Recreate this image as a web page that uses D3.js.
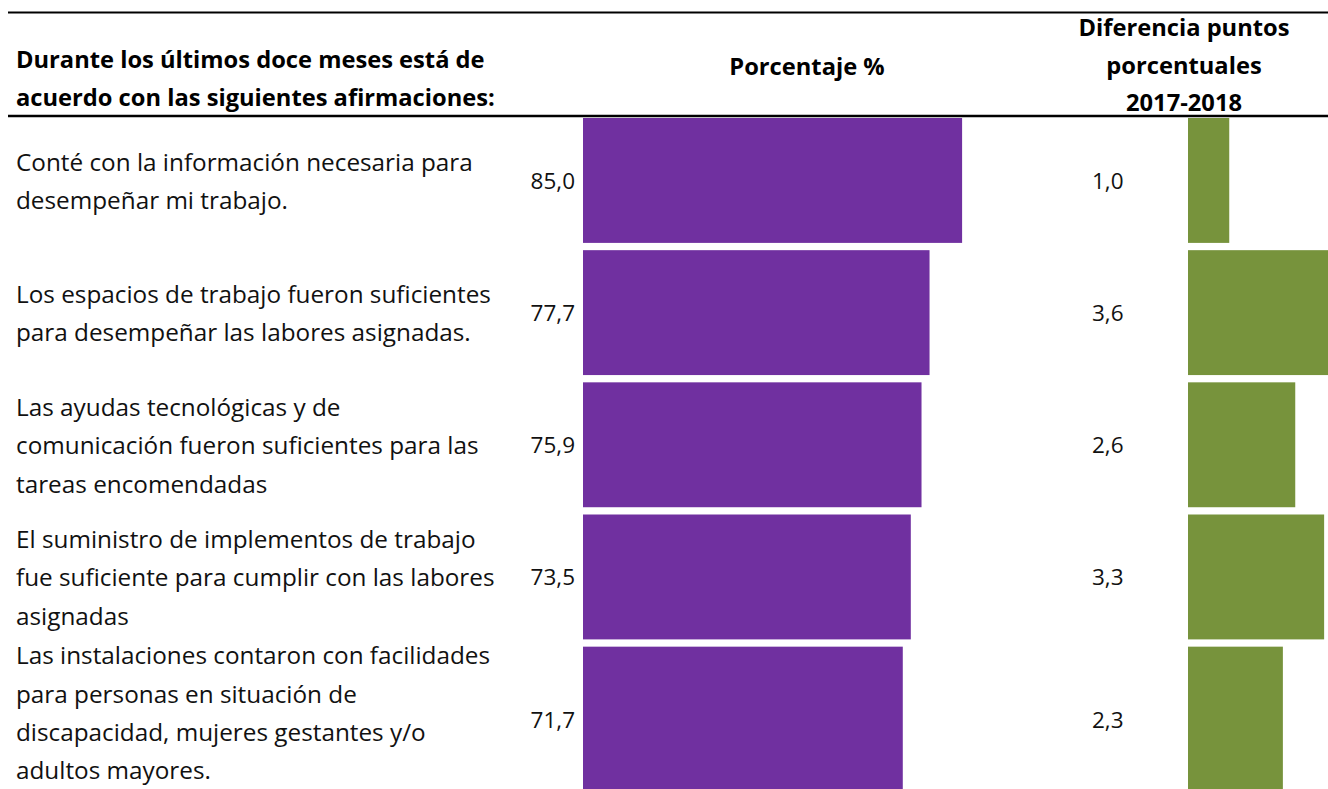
<!DOCTYPE html>
<html>
  <head>
    <meta charset="utf-8">
    <title>Afirmaciones</title>
    <script src="https://cdn.jsdelivr.net/npm/d3@7"></script>
    <style>
      body { margin: 0; background: #fff; }
      svg { display: block; font-family: "Open Sans", sans-serif; }
      .cat { font-size: 24.3px; fill: #111; }
      .val { font-size: 22.5px; fill: #111; }
      .hdr { font-size: 23.7px; font-weight: bold; fill: #000; }
    </style>
  </head>
  <body>
  <script>

  // datos
  var categories = [
    ['Conté con la información necesaria para', 'desempeñar mi trabajo.'],
    ['Los espacios de trabajo fueron suficientes', 'para desempeñar las labores asignadas.'],
    ['Las ayudas tecnológicas y de', 'comunicación fueron suficientes para las', 'tareas encomendadas'],
    ['El suministro de implementos de trabajo', 'fue suficiente para cumplir con las labores', 'asignadas'],
    ['Las instalaciones contaron con facilidades', 'para personas en situación de', 'discapacidad, mujeres gestantes y/o', 'adultos mayores.']
  ]
  var porcentaje = [85.0, 77.7, 75.9, 73.5, 71.7]
  var diferencia = [1.0, 3.6, 2.6, 3.3, 2.3]

  var W = 1328, H = 789

  var svg = d3.select('body').append('svg')
    .attr('width', W)
    .attr('height', H)

  var fmt = function(v) { return d3.format('.1f')(v).replace('.', ',') }

  var idx = d3.range(categories.length)
  var y = d3.scaleBand().domain(idx).range([118, 118 + 4.94 * 132.3]).paddingInner(0.055).paddingOuter(0)
  var xP = d3.scaleLinear().domain([0, 100]).range([583, 583 + 446])
  var xD = d3.scaleLinear().domain([0, 4]).range([1188, 1188 + 165])

  // alto de cada fila (la ultima es mas alta)
  var rowH = function(i) { return i === idx.length - 1 ? 146 : y.bandwidth() }
  var mid = function(i) { return y(i) + rowH(i) / 2 }

  // lineas de encabezado
  svg.append('line').attr('x1', 8).attr('x2', W).attr('y1', 12.5).attr('y2', 12.5)
    .attr('stroke', '#000').attr('stroke-width', 2)
  svg.append('line').attr('x1', 8).attr('x2', W).attr('y1', 116).attr('y2', 116)
    .attr('stroke', '#000').attr('stroke-width', 2.5)

  var hdr = function(lines, x, y0, step, anchor) {
    var t = svg.append('text').attr('class', 'hdr').attr('text-anchor', anchor)
    lines.forEach(function(l, i) {
      t.append('tspan').attr('x', x).attr('y', y0 + i * step).text(l)
    })
  }
  hdr(['Durante los últimos doce meses está de', 'acuerdo con las siguientes afirmaciones:'], 16, 68, 37.5, 'start')
  hdr(['Porcentaje %'], 807, 75, 0, 'middle')
  hdr(['Diferencia puntos', 'porcentuales', '2017-2018'], 1184, 36, 37.5, 'middle')

  // barras
  svg.selectAll('rect.p').data(porcentaje).enter().append('rect')
    .attr('class', 'p')
    .attr('x', xP(0))
    .attr('y', function(d, i) { return y(i) })
    .attr('width', function(d) { return xP(d) - xP(0) })
    .attr('height', function(d, i) { return rowH(i) })
    .attr('fill', '#7030A0')

  svg.selectAll('rect.d').data(diferencia).enter().append('rect')
    .attr('class', 'd')
    .attr('x', xD(0))
    .attr('y', function(d, i) { return y(i) })
    .attr('width', function(d) { return xD(d) - xD(0) })
    .attr('height', function(d, i) { return rowH(i) })
    .attr('fill', '#77933C')

  // etiquetas de valor
  svg.selectAll('text.vp').data(porcentaje).enter().append('text')
    .attr('class', 'val vp')
    .attr('x', 575)
    .attr('y', function(d, i) { return mid(i) + 8.5 })
    .attr('text-anchor', 'end')
    .text(fmt)

  svg.selectAll('text.vd').data(diferencia).enter().append('text')
    .attr('class', 'val vd')
    .attr('x', 1092)
    .attr('y', function(d, i) { return mid(i) + 8.5 })
    .text(fmt)

  // categorias
  svg.selectAll('text.cat').data(categories).enter().append('text')
    .attr('class', 'cat')
    .each(function(lines, i) {
      var off = lines.length > 3 ? 2 : 9.5
      var first = mid(i) + off - (lines.length - 1) * 38.3 / 2
      d3.select(this).selectAll('tspan').data(lines).enter().append('tspan')
        .attr('x', 16)
        .attr('y', function(l, j) { return first + j * 38.3 })
        .text(function(l) { return l })
    })

  </script>
  </body>
</html>
